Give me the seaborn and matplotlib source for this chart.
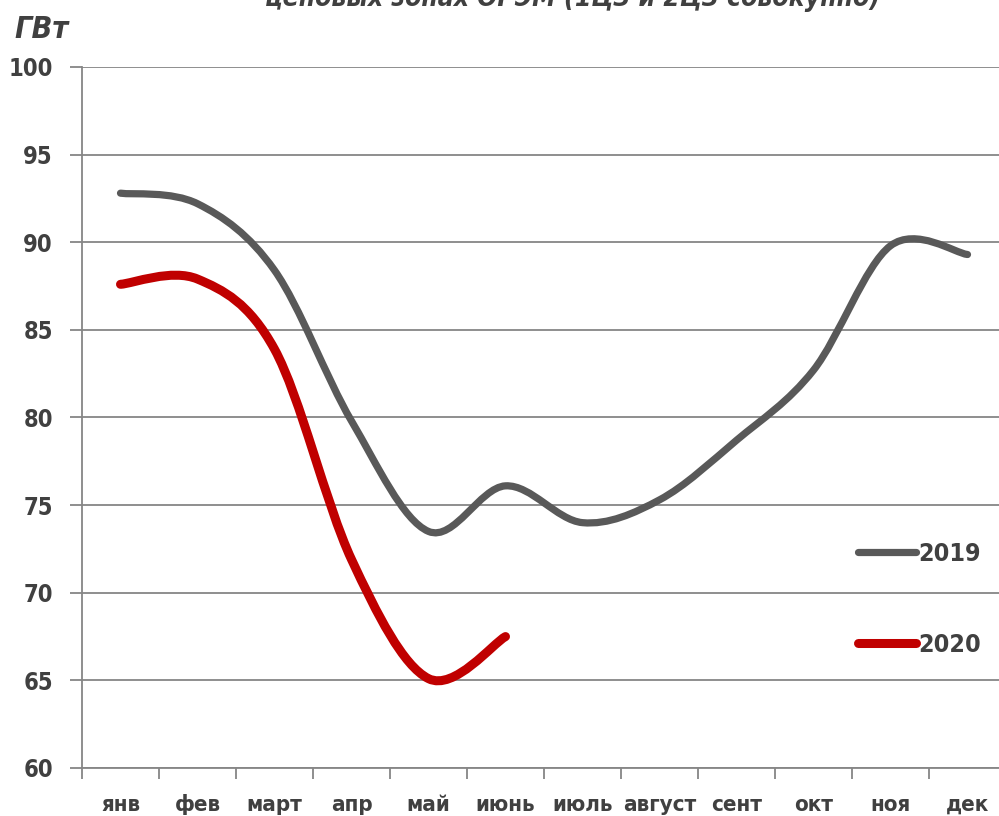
import numpy as np
import matplotlib.pyplot as plt
import seaborn as sns
from matplotlib.path import Path
from matplotlib.patches import PathPatch
from matplotlib.lines import Line2D

months = ["янв", "фев", "март", "апр", "май", "июнь", "июль", "август",
          "сент", "окт", "ноя", "дек"]
values_2019 = [92.8, 92.2, 88.4, 79.8, 73.5, 76.1, 74.0, 75.3, 78.7, 82.7, 89.8, 89.3]
values_2020 = [87.6, 87.9, 83.9, 71.9, 65.1, 67.5]

color_2019 = "#595959"
color_2020 = "#C00000"
text_color = "#404040"

sns.set_theme(style="white")
plt.rcParams["font.family"] = ["DejaVu Sans"]
plt.rcParams["font.stretch"] = "condensed"


# Excel-like smoothed line: Catmull-Rom segments as cubic Bezier curves
def smooth_path(xs, ys):
    pts = np.column_stack([xs, ys])
    ext = np.vstack([pts[0], pts, pts[-1]])
    verts = [pts[0]]
    codes = [Path.MOVETO]
    for i in range(len(pts) - 1):
        p0, p1, p2, p3 = ext[i], ext[i + 1], ext[i + 2], ext[i + 3]
        verts += [p1 + (p2 - p0) / 6, p2 - (p3 - p1) / 6, p2]
        codes += [Path.CURVE4] * 3
    return Path(verts, codes)


fig = plt.figure(figsize=(9.99, 8.16), dpi=100)
ax = fig.add_axes([82 / 999, 48 / 816, 924 / 999, 701 / 816])

x19 = np.arange(len(values_2019)) + 0.5
x20 = np.arange(len(values_2020)) + 0.5
for xs, ys, col, lw in [(x19, values_2019, color_2019, 5.2),
                        (x20, values_2020, color_2020, 6.5)]:
    ax.add_patch(PathPatch(smooth_path(xs, ys), facecolor="none", edgecolor=col,
                           lw=lw, capstyle="round", joinstyle="round", zorder=3))

ax.set_xlim(0, 12)
ax.set_ylim(60, 100)
ax.set_yticks(np.arange(60, 101, 5))
ax.set_xticks(np.arange(0, 13))
ax.set_xticklabels([])
ax.set_xticks(np.arange(len(months)) + 0.5, minor=True)
ax.set_xticklabels(months, minor=True, va="baseline")
ax.tick_params(axis="x", which="minor", length=0, pad=31, labelsize=16,
               labelcolor=text_color)
ax.tick_params(axis="x", which="major", length=8, width=1.3, color="#868686",
               direction="out", bottom=True)
ax.tick_params(axis="y", length=9, width=1.3, color="#868686", direction="out",
               left=True, labelsize=17, labelcolor=text_color, pad=12)
for lab in ax.get_xticklabels(minor=True) + ax.get_yticklabels():
    lab.set_fontweight("bold")

ax.yaxis.grid(True, color="#868686", lw=1.3)
ax.xaxis.grid(False)
for side in ["top", "right"]:
    ax.spines[side].set_visible(False)
for side in ["left", "bottom"]:
    ax.spines[side].set_color("#868686")
    ax.spines[side].set_linewidth(1.3)

handles = [Line2D([], [], color=color_2019, lw=5.2, solid_capstyle="round"),
           Line2D([], [], color=color_2020, lw=6.5, solid_capstyle="round")]
leg = ax.legend(handles, ["2019", "2020"], loc="upper left",
                bbox_to_anchor=(0.84, 0.323), frameon=False, fontsize=18,
                handlelength=2.3, handletextpad=0.1, labelspacing=2.7,
                borderpad=0, borderaxespad=0)
for t in leg.get_texts():
    t.set_color(text_color)
    t.set_fontweight("bold")

fig.text(0.573, 1 - 6 / 816, "ценовых зонах ОРЭМ (1ЦЗ и 2ЦЗ совокупно)",
         ha="center", va="baseline", fontsize=19, fontweight="bold",
         fontstyle="italic", color=text_color)
fig.text(14 / 999, 1 - 38 / 816, "ГВт", ha="left", va="baseline", fontsize=22,
         fontweight="bold", fontstyle="italic", color=text_color)

fig.savefig("out.png", dpi=100)
